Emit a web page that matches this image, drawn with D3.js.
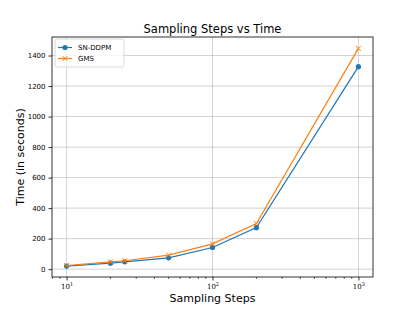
<!DOCTYPE html>
<meta charset="utf-8">
<head>
  <script src="https://d3js.org/d3.v7.min.js"></script>
  <style>
    html, body { margin: 0; padding: 0; background: #fff; }
    svg { font-family: "DejaVu Sans", sans-serif; }
    .grid line { stroke: #b0b0b0; stroke-width: 0.8; opacity: 0.7; }
  </style>
</head>
<body>
<svg id="chart" width="415" height="312"></svg>
<script>
  const steps = [10, 20, 25, 50, 100, 200, 1000]
  const snddpm = [20, 39, 48, 74, 142, 272, 1327]
  const gms = [24, 48, 55, 92, 166, 299, 1447]
  const yTicks = [0, 200, 400, 600, 800, 1000, 1200, 1400]
  const xTicks = [10, 100, 1000]
  const seriesNames = ["SN-DDPM", "GMS"]

  const margin = { top: 37, left: 52, right: 42, bottom: 35 }
  const width = 415, height = 312
  const plotW = width - margin.left - margin.right
  const plotH = height - margin.top - margin.bottom

  const svg = d3.select("#chart")
  const g = svg.append("g").attr("transform", "translate(" + [margin.left, margin.top] + ")")

  const x = d3.scaleLog().domain([Math.pow(10, 0.9), Math.pow(10, 3.1)]).range([0, plotW])
  const y = d3.scaleLinear().domain([-51.5, 1521.5]).range([plotH, 0])

  // grid
  const grid = g.append("g").attr("class", "grid")
  grid.selectAll(".gx").data(xTicks).enter().append("line")
    .attr("x1", d => x(d)).attr("x2", d => x(d)).attr("y1", 0).attr("y2", plotH)
  grid.selectAll(".gy").data(yTicks).enter().append("line")
    .attr("x1", 0).attr("x2", plotW).attr("y1", d => y(d)).attr("y2", d => y(d))

  // minor ticks on log axis
  let minors = []
  for (let e = 0; e < 4; e++) for (let m = 2; m < 10; m++) {
    let v = m * Math.pow(10, e)
    if (v > x.domain()[0] && v < x.domain()[1]) minors.push(v)
  }
  g.append("g").selectAll("line").data(minors).enter().append("line")
    .attr("x1", d => x(d)).attr("x2", d => x(d)).attr("y1", plotH).attr("y2", plotH + 2)
    .attr("stroke", "#000").attr("stroke-width", 0.6)

  const xAxis = d3.axisBottom(x).tickValues(xTicks).tickSize(3.5).tickFormat(() => "")
  const xa = g.append("g").attr("transform", "translate(0," + plotH + ")").call(xAxis)
  xa.select(".domain").remove()
  xa.selectAll("line").attr("stroke-width", 0.8)
  xa.selectAll(".tick").each(function (d) {
    const t = d3.select(this).append("text").attr("y", 12).attr("fill", "#000")
      .attr("font-size", 7).attr("text-anchor", "middle").attr("font-family", "DejaVu Serif")
    t.append("tspan").text("10")
    t.append("tspan").attr("dy", -3).attr("font-size", 5).text(Math.round(Math.log10(d)))
  })

  const yAxis = d3.axisLeft(y).tickValues(yTicks).tickSize(3.5).tickPadding(3).tickFormat(d3.format("d"))
  const ya = g.append("g").call(yAxis)
  ya.select(".domain").remove()
  ya.selectAll("line").attr("stroke-width", 0.8)
  ya.selectAll("text").attr("font-size", 7).attr("font-family", "DejaVu Sans").attr("fill", "#000")

  g.append("rect").attr("width", plotW).attr("height", plotH)
    .attr("fill", "none").attr("stroke", "#000").attr("stroke-width", 0.8)

  const colors = ["#1f77b4", "#ff7f0e"]
  const series = [snddpm, gms]
  const line = d3.line().x(d => x(d[0])).y(d => y(d[1]))

  series.forEach((s, i) => {
    const pts = steps.map((st, j) => [st, s[j]])
    g.append("path").datum(pts).attr("d", line)
      .attr("fill", "none").attr("stroke", colors[i]).attr("stroke-width", 1.2)
    if (i === 0) {
      g.append("g").selectAll("circle").data(pts).enter().append("circle")
        .attr("cx", d => x(d[0])).attr("cy", d => y(d[1])).attr("r", 2.6).attr("fill", colors[i])
    } else {
      g.append("g").selectAll("path").data(pts).enter().append("path")
        .attr("d", "M-2.5,-2.5L2.5,2.5M-2.5,2.5L2.5,-2.5")
        .attr("transform", d => "translate(" + [x(d[0]), y(d[1])] + ")")
        .attr("stroke", colors[i]).attr("stroke-width", 1)
    }
  })

  // legend
  const lg = g.append("g").attr("transform", "translate(3,2)")
  lg.append("rect").attr("width", 69).attr("height", 28).attr("rx", 2)
    .attr("fill", "#fff").attr("fill-opacity", 0.8).attr("stroke", "#d0d0d0").attr("stroke-width", 0.8)
  seriesNames.forEach((n, i) => {
    const yy = 8.5 + i * 11
    lg.append("line").attr("x1", 3).attr("x2", 17).attr("y1", yy).attr("y2", yy)
      .attr("stroke", colors[i]).attr("stroke-width", 1.2)
    if (i === 0) lg.append("circle").attr("cx", 10).attr("cy", yy).attr("r", 2.6).attr("fill", colors[i])
    else lg.append("path").attr("d", "M-2.5,-2.5L2.5,2.5M-2.5,2.5L2.5,-2.5")
      .attr("transform", "translate(10," + yy + ")").attr("stroke", colors[i]).attr("stroke-width", 1)
    lg.append("text").attr("x", 23).attr("y", yy + 2.5).attr("font-size", 7).text(n)
  })

  svg.append("text").attr("x", margin.left + plotW / 2).attr("y", 33)
    .attr("text-anchor", "middle").attr("font-size", 11.5).text("Sampling Steps vs Time")
  svg.append("text").attr("x", margin.left + plotW / 2).attr("y", 302)
    .attr("text-anchor", "middle").attr("font-size", 11).text("Sampling Steps")
  svg.append("text").attr("transform", "translate(24," + (margin.top + plotH / 2) + ") rotate(-90)")
    .attr("text-anchor", "middle").attr("font-size", 11).text("Time (in seconds)")
</script>
</body>
